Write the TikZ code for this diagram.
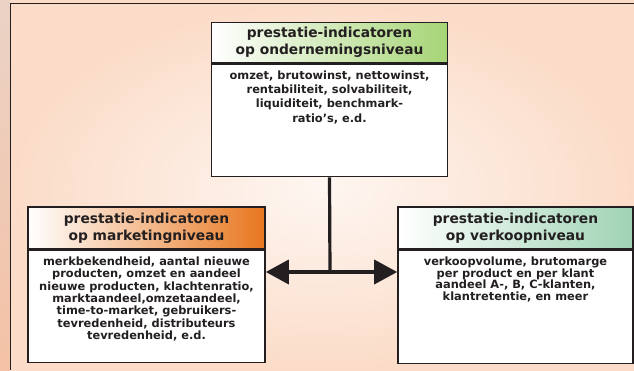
\documentclass[tikz,border=0pt]{standalone}
\usepackage{fontspec}
\setmainfont{DejaVu Sans}
\usetikzlibrary{positioning,arrows.meta}

\definecolor{peach}{HTML}{FBDCC8}
\definecolor{stripe}{HTML}{F4C2A6}
\definecolor{framedark}{HTML}{231F20}
\definecolor{kopgroen}{HTML}{A6D576}
\definecolor{koporanje}{HTML}{E8761E}
\definecolor{kopmint}{HTML}{9FD3B4}

\tikzset{
  kopbox/.style={draw=framedark,line width=1.6pt,minimum height=40pt,inner sep=0pt,
    font=\fontsize{13.8}{17}\selectfont\bfseries,align=center,text=framedark},
  lijfbox/.style={draw=framedark,line width=1.6pt,fill=white,inner sep=0pt},
  lijftekst/.style={inner sep=0pt,align=center,text=framedark},
  pijlpunt/.style={{Triangle[length=23pt,width=24pt]}-{Triangle[length=23pt,width=24pt]}},
}

\begin{document}
\begin{tikzpicture}[x=1pt,y=-1pt]
    % achtergrond
    \useasboundingbox (0,0) rectangle (634,370);
    \fill[peach] (0,0) rectangle (634,370);
    \shade[top color=stripe!80!gray!60, bottom color=stripe] (0,0) rectangle (10,370);
    \shade[inner color=peach!25, outer color=peach] (10.5,3.5) rectangle (634,370);
    \draw[framedark,line width=1.6pt] (634,3.5) -- (10.5,3.5) -- (10.5,370);

    % bovenste blok
    \node[kopbox,left color=white,right color=kopgroen,minimum width=236pt] (topkop) at (329.5,42.5)
        {prestatie-indicatoren\\op ondernemingsniveau};
    \node[lijfbox,minimum width=236pt,minimum height=112.5pt,below=0pt of topkop] (toplijf) {};
    \node[lijftekst,font=\fontsize{11.4}{14.4}\selectfont\bfseries,below=7pt of toplijf.north] (toptekst)
        {omzet, brutowinst, nettowinst,\\rentabiliteit, solvabiliteit,\\liquiditeit, benchmark-\\ratio’s, e.d.};

    % linker blok
    \node[kopbox,left color=white,right color=koporanje,minimum width=237pt,minimum height=42pt] (linkskop) at (146.5,228)
        {prestatie-indicatoren\\op marketingniveau};
    \node[lijfbox,minimum width=237pt,minimum height=112pt,below=0pt of linkskop] (linkslijf) {};
    \node[lijftekst,font=\fontsize{11.4}{12.3}\selectfont\bfseries,below=7pt of linkslijf.north] (linkstekst)
        {merkbekendheid, aantal nieuwe\\producten, omzet en aandeel\\nieuwe producten, klachtenratio,\\marktaandeel,omzetaandeel,\\time-to-market, gebruikers-\\tevredenheid, distributeurs\\tevredenheid, e.d.};

    % rechter blok
    \node[kopbox,left color=white,right color=kopmint,minimum width=235pt,minimum height=42pt] (rechtskop) at (515.5,228)
        {prestatie-indicatoren\\op verkoopniveau};
    \node[lijfbox,minimum width=235pt,minimum height=113pt,below=0pt of rechtskop] (rechtslijf) {};
    \node[lijftekst,font=\fontsize{11.4}{11.6}\selectfont\bfseries,below=7pt of rechtslijf.north] (rechtstekst)
        {verkoopvolume, brutomarge\\per product en per klant\\aandeel A-, B, C-klanten,\\klantretentie, en meer};

    % verbindingen
    \coordinate (splits) at (330,272);
    \coordinate (linkspunt) at (linkslijf.east |- splits);
    \coordinate (rechtspunt) at (rechtslijf.west |- splits);
    \draw[framedark,line width=3.2pt] (toplijf.south) -- (splits);
    \draw[pijlpunt,framedark,line width=3.6pt] (linkspunt) -- (rechtspunt);
\end{tikzpicture}
\end{document}
